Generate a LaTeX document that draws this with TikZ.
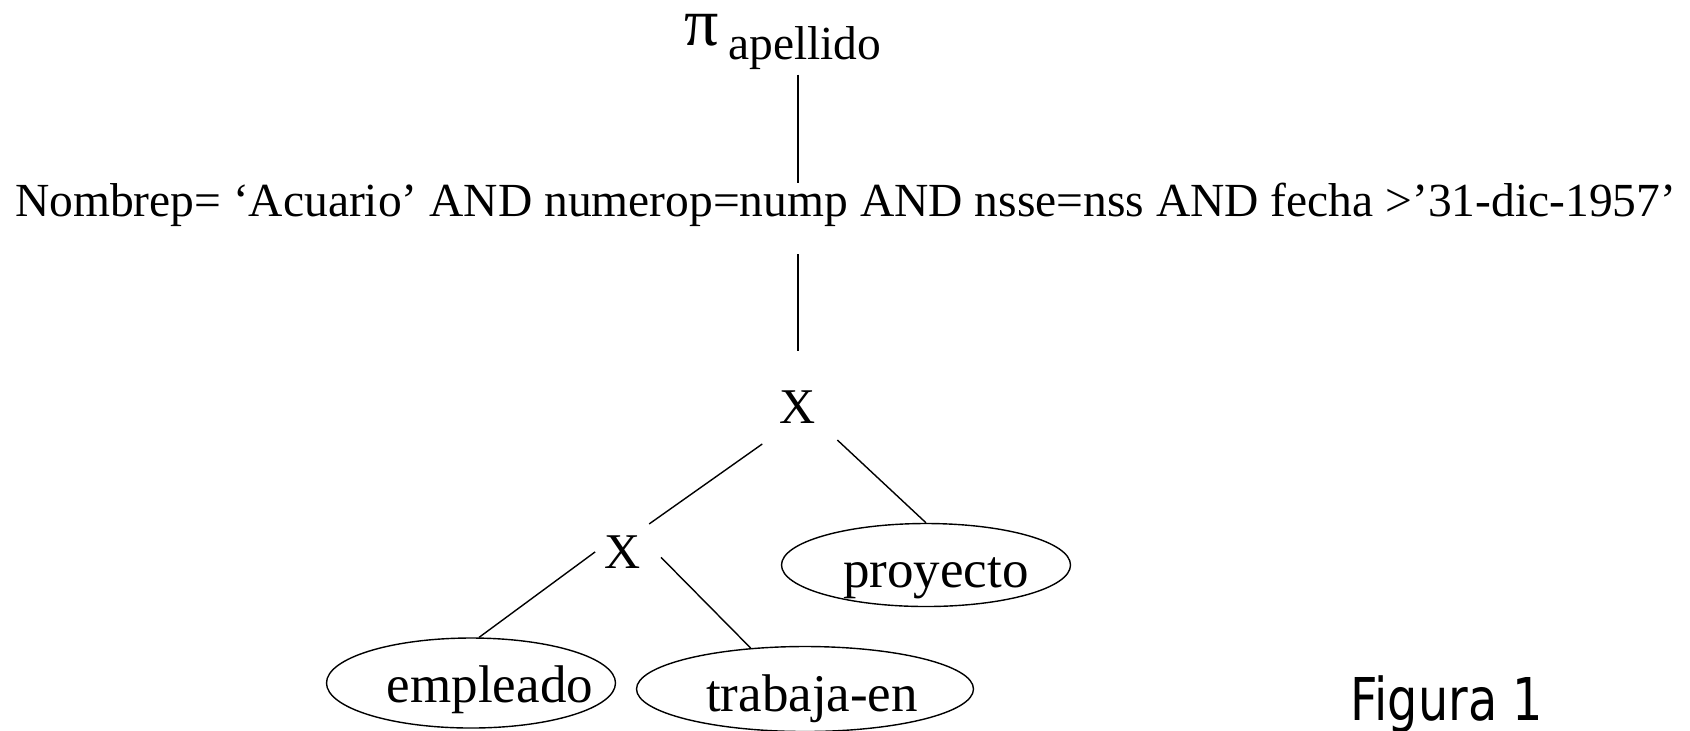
\documentclass[tikz,border=0pt]{standalone}
\usepackage{fontspec}
\setmainfont{Liberation Serif}
\newfontfamily\figfont{DejaVu Sans}
\usetikzlibrary{shapes.geometric,calc}
\begin{document}
\begin{tikzpicture}[x=0.5pt,y=-0.5pt,
  lbl/.style={inner sep=0pt, outer sep=0pt, font=\fontsize{23.75pt}{28pt}\selectfont},
  op/.style={circle, inner sep=0pt, minimum size=#1, font=\fontsize{25pt}{30pt}\selectfont},
  rel/.style={ellipse, draw, line width=0.7pt, inner sep=0pt},
  reltext/.style={inner sep=0pt, anchor=base, font=\fontsize{26.5pt}{30pt}\selectfont},
  edge/.style={line width=0.7pt}]
\useasboundingbox (0,0) rectangle (1690,730);

% projection and selection
\node[lbl, anchor=base west] (proj) at (684,45)
  {{\fontsize{34pt}{36pt}\selectfont π}\hspace{5pt}\raisebox{-7pt}{apellido}};
\node[lbl, anchor=base west] (sel) at (15,216)
  {Nombrep= ‘Acuario’ AND numerop=nump AND nsse=nss AND fecha >’31-dic-1957’};

% cartesian products
\node[op=51pt] (opa) at (798,407) {X};
\node[op=38pt] (opb) at (623,552) {X};

% relations
\node[rel, minimum width=144.5pt, minimum height=41.5pt] (proy) at (926,565) {};
\node[reltext] (proylbl) at (936,587) {proyecto};
\node[rel, minimum width=144.5pt, minimum height=45pt] (emp) at (471,683) {};
\node[reltext] (emplbl) at (490,702) {empleado};
\node[rel, minimum width=168.5pt, minimum height=42.5pt] (trab) at (805,689) {};
\node[reltext] (trablbl) at (812,711) {trabaja-en};

% caption
\node[inner sep=0pt, anchor=base west, font=\figfont\fontsize{29.5pt}{32pt}\selectfont]
  (fig) at (1350,720) {\scalebox{0.81}[1]{Figura 1}};

% tree edges
\draw[edge, shorten <=2.8pt] (proj.south -| opa.north) -- (sel.north -| opa.north);
\draw[edge, shorten <=14pt, shorten >=2.5pt] (sel.south -| opa.north) -- (opa.north);
\draw[edge] (opa.226) -- (opb.47);
\draw[edge] (opa.-40) -- (proy.north);
\draw[edge, shorten <=28.5pt] (opb.62) -- (emp.80);
\draw[edge] (opb.-8) -- (trab.143);
\end{tikzpicture}
\end{document}
